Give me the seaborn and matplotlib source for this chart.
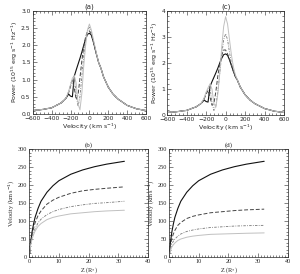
import numpy as np
import pandas as pd
import matplotlib
matplotlib.use("Agg")
import matplotlib.pyplot as plt
from matplotlib.ticker import MultipleLocator
import seaborn as sns

# --- line profiles (top panels) ---
velocity = [-600, -500, -400, -300, -250, -220, -200, -180, -160, -140, -120, -100, -80, -60,
            -40, -20, 0, 20, 40, 60, 80, 100, 120, 150, 200, 250, 300, 400, 500, 600]

power_solid = [0.10, 0.13, 0.18, 0.32, 0.45, 0.58, 0.52, 0.50, 1.10, 1.28, 1.45, 1.62, 1.80, 2.00,
               2.18, 2.32, 2.35, 2.30, 2.12, 1.90, 1.68, 1.48, 1.35, 1.08, 0.78, 0.58, 0.44, 0.25, 0.15, 0.10]

power_a_dash = [0.10, 0.13, 0.18, 0.32, 0.45, 0.62, 0.80, 0.98, 0.75, 0.42, 0.55, 1.05, 1.55, 1.95,
                2.25, 2.40, 2.42, 2.32, 2.12, 1.90, 1.68, 1.48, 1.35, 1.08, 0.78, 0.58, 0.44, 0.25, 0.15, 0.10]
power_a_dashdot = [0.10, 0.13, 0.18, 0.32, 0.45, 0.65, 0.85, 1.05, 1.10, 0.55, 0.22, 0.50, 1.10, 1.70,
                   2.15, 2.45, 2.52, 2.38, 2.15, 1.92, 1.68, 1.48, 1.35, 1.08, 0.78, 0.58, 0.44, 0.25, 0.15, 0.10]
power_a_grey = [0.10, 0.13, 0.18, 0.32, 0.45, 0.66, 0.85, 1.00, 1.12, 0.90, 0.30, 0.12, 0.60, 1.40,
                2.00, 2.45, 2.62, 2.45, 2.20, 1.95, 1.70, 1.48, 1.35, 1.08, 0.78, 0.58, 0.44, 0.25, 0.15, 0.10]

power_c_dash = [0.10, 0.13, 0.18, 0.32, 0.45, 0.62, 0.80, 0.95, 0.70, 0.38, 0.45, 0.90, 1.50, 1.95,
                2.30, 2.50, 2.50, 2.35, 2.15, 1.92, 1.68, 1.48, 1.35, 1.08, 0.78, 0.58, 0.44, 0.25, 0.15, 0.10]
power_c_dashdot = [0.10, 0.13, 0.18, 0.32, 0.45, 0.65, 0.85, 1.00, 1.05, 0.50, 0.18, 0.35, 0.90, 1.60,
                   2.30, 2.90, 3.12, 2.90, 2.40, 2.00, 1.72, 1.50, 1.35, 1.08, 0.78, 0.58, 0.44, 0.25, 0.15, 0.10]
power_c_grey = [0.10, 0.13, 0.18, 0.32, 0.45, 0.66, 0.88, 1.05, 1.20, 1.00, 0.45, 0.30, 0.80, 1.60,
                2.60, 3.40, 3.78, 3.50, 2.90, 2.30, 1.85, 1.55, 1.36, 1.08, 0.78, 0.58, 0.44, 0.25, 0.15, 0.10]

# --- velocity laws (bottom panels) ---
z = [0.2, 0.5, 1, 1.5, 2, 3, 4, 6, 8, 10, 14, 18, 22, 26, 32]

vel_solid = [10, 40, 70, 92, 110, 135, 155, 180, 198, 212, 230, 242, 251, 258, 266]

vel_b_dash = [10, 38, 63, 80, 95, 115, 128, 147, 158, 166, 177, 184, 188, 191, 195]
vel_b_dashdot = [10, 35, 55, 68, 78, 95, 105, 118, 126, 132, 140, 145, 149, 151, 155]
vel_b_grey = [10, 32, 50, 62, 72, 85, 93, 104, 110, 114, 120, 123, 126, 128, 130]

vel_d_dash = [10, 33, 52, 64, 74, 88, 96, 107, 113, 117, 123, 126, 129, 131, 133]
vel_d_dashdot = [8, 24, 36, 44, 50, 58, 64, 71, 75, 78, 82, 84, 86, 87, 88]
vel_d_grey = [6, 18, 28, 34, 39, 46, 50, 55, 58, 60, 63, 64, 65, 66, 67]

sns.set_style("ticks")
plt.rcParams["font.family"] = ["DejaVu Sans"]

fig = plt.figure(figsize=(3.0, 2.74), dpi=100)
ax_a = fig.add_axes([0.109, 0.584, 0.378, 0.376])
ax_c = fig.add_axes([0.557, 0.580, 0.390, 0.380])
ax_b = fig.add_axes([0.097, 0.062, 0.397, 0.394])
ax_d = fig.add_axes([0.563, 0.062, 0.397, 0.394])

# style: (colour, dashes, width)
styles = [("#111111", "", 0.8), ("#444444", (4, 2), 0.7),
          ("#777777", (3, 1.5, 1, 1.5), 0.6), ("#c0c0c0", "", 0.7)]


def draw(ax, x, series):
    for y, (col, dash, lw) in zip(series, styles):
        sns.lineplot(x=x, y=y, ax=ax, color=col, linewidth=lw, dashes=False if dash == "" else None)
        line = ax.lines[-1]
        if dash != "":
            line.set_dashes(dash)


def frame(ax, fs, family):
    ax.tick_params(which="both", direction="in", top=True, right=True, labelsize=fs, pad=1.5)
    ax.tick_params(which="major", length=3, width=0.4)
    ax.tick_params(which="minor", length=1.5, width=0.4)
    for s in ax.spines.values():
        s.set_linewidth(0.5)
    for lab in ax.get_xticklabels() + ax.get_yticklabels():
        lab.set_family(family)


draw(ax_a, velocity, [power_solid, power_a_dash, power_a_dashdot, power_a_grey])
draw(ax_c, velocity, [power_solid, power_c_dash, power_c_dashdot, power_c_grey])
draw(ax_b, z, [vel_solid, vel_b_dash, vel_b_dashdot, vel_b_grey])
draw(ax_d, z, [vel_solid, vel_d_dash, vel_d_dashdot, vel_d_grey])

for ax, ymax, title in [(ax_a, 3.0, "(a)"), (ax_c, 4.0, "(c)")]:
    ax.set_xlim(-600, 600)
    ax.set_ylim(0, ymax)
    ax.xaxis.set_major_locator(MultipleLocator(200))
    ax.xaxis.set_minor_locator(MultipleLocator(40))
    ax.set_xlabel("Velocity (km s$^{-1}$)", fontsize=4.5, labelpad=0.5)
    ax.set_ylabel("Power (10$^{15}$ erg s$^{-1}$ Hz$^{-1}$)", fontsize=4.5, labelpad=1)
    ax.set_title(title, fontsize=5, pad=1.5)
ax_a.yaxis.set_major_locator(MultipleLocator(0.5))
ax_a.yaxis.set_minor_locator(MultipleLocator(0.1))
ax_a.yaxis.set_major_formatter(matplotlib.ticker.FormatStrFormatter("%.1f"))
ax_c.yaxis.set_major_locator(MultipleLocator(1))
ax_c.yaxis.set_minor_locator(MultipleLocator(0.2))
frame(ax_a, 4.3, "DejaVu Sans")
frame(ax_c, 4.3, "DejaVu Sans")

for ax, title in [(ax_b, "(b)"), (ax_d, "(d)")]:
    ax.set_xlim(0, 40)
    ax.set_ylim(0, 300)
    ax.xaxis.set_major_locator(MultipleLocator(10))
    ax.xaxis.set_minor_locator(MultipleLocator(1))
    ax.yaxis.set_major_locator(MultipleLocator(50))
    ax.yaxis.set_minor_locator(MultipleLocator(10))
    ax.set_xlabel("Z (R$_{*}$)", fontsize=4.5, labelpad=1, family="Liberation Serif")
    ax.set_ylabel("Velocity (km s$^{-1}$)", fontsize=4.5, labelpad=1, family="Liberation Serif")
    ax.set_title(title, fontsize=5, pad=1.5, family="Liberation Serif")
    frame(ax, 4.5, "Liberation Serif")

fig.savefig("out.png", dpi=100)
